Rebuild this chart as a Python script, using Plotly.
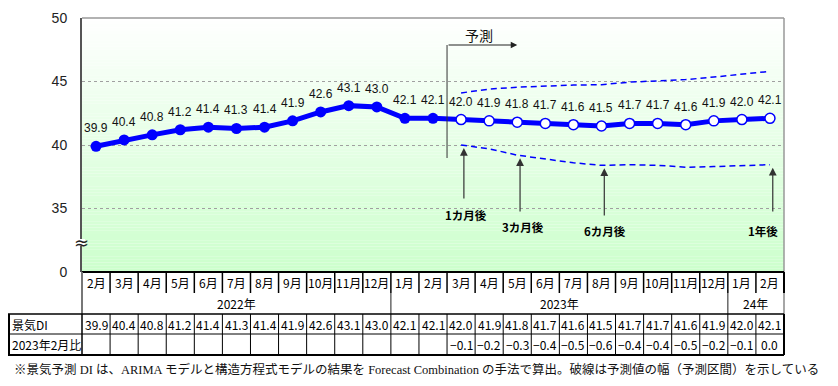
import plotly.graph_objects as go

# ---------------- data ----------------
months = ["2月", "3月", "4月", "5月", "6月", "7月", "8月", "9月", "10月", "11月", "12月",
          "1月", "2月", "3月", "4月", "5月", "6月", "7月", "8月", "9月", "10月", "11月", "12月",
          "1月", "2月"]
years = ["2022年", "2023年", "24年"]
year_spans = [(0, 10), (11, 22), (23, 24)]
actual = [39.9, 40.4, 40.8, 41.2, 41.4, 41.3, 41.4, 41.9, 42.6, 43.1, 43.0, 42.1, 42.1]
forecast = [42.0, 41.9, 41.8, 41.7, 41.6, 41.5, 41.7, 41.7, 41.6, 41.9, 42.0, 42.1]
upper = [44.1, 44.4, 44.55, 44.65, 44.72, 44.75, 44.95, 45.05, 45.15, 45.35, 45.6, 45.8]
lower = [40.0, 39.7, 39.2, 38.9, 38.6, 38.4, 38.45, 38.4, 38.25, 38.3, 38.4, 38.45]
change = [-0.1, -0.2, -0.3, -0.4, -0.5, -0.6, -0.4, -0.4, -0.5, -0.2, -0.1, 0.0]
horizon_labels = ["1カ月後", "3カ月後", "6カ月後", "1年後"]
horizon_idx = [13, 15, 18, 24]
y_tickvals = [30, 35, 40, 45, 50]
y_ticktext = ["0", "35", "40", "45", "50"]
row_labels = ["景気DI", "2023年2月比"]
footnote = ("※景気予測 DI は、ARIMA モデルと構造方程式モデルの結果を Forecast Combination "
            "の手法で算出。破線は予測値の幅（予測区間）を示している")

# ---------------- geometry helpers (page pixel coords) ----------------
OFF = 8                      # default body margin of the html page
W, H = 838 - OFF, 386 - OFF  # figure size
L, R, T, B = 82, 784, 18, 272  # plot area in page pixels
YMIN, YMAX = 30, 50


def px(xp):
    return (xp - L) / (R - L)


def py(yp):
    return (B - yp) / (B - T)


def yval(yp):
    return YMIN + (B - yp) / (B - T) * (YMAX - YMIN)


n = len(months)
x_all = list(range(n))
x_act = x_all[:len(actual)]
x_fc = x_all[len(actual):]

JP = "Noto Sans CJK JP"
SANS = "Liberation Sans, Arial, sans-serif"
BLUE = "#0000FF"

fig = go.Figure()

# band lines
fig.add_trace(go.Scatter(x=x_fc, y=upper, mode="lines",
                         line=dict(color=BLUE, width=1.5, dash="6px,4px"), hoverinfo="skip"))
fig.add_trace(go.Scatter(x=x_fc, y=lower, mode="lines",
                         line=dict(color=BLUE, width=1.5, dash="6px,4px"), hoverinfo="skip"))
# main line
fig.add_trace(go.Scatter(x=x_all, y=actual + forecast, mode="lines",
                         line=dict(color=BLUE, width=5)))
fig.add_trace(go.Scatter(x=x_act, y=actual, mode="markers",
                         marker=dict(color=BLUE, size=11, line=dict(width=0))))
fig.add_trace(go.Scatter(x=x_fc, y=forecast, mode="markers",
                         marker=dict(color="white", size=10, line=dict(color=BLUE, width=1.5))))

shapes = []
annotations = []


def ann(**kw):
    kw.setdefault("showarrow", False)
    kw.setdefault("yanchor", "middle")
    kw.setdefault("xanchor", "center")
    annotations.append(kw)


# gradient background
N = 80
for k in range(N):
    f = (k + 0.5) / N
    c = int(round(204 + 51 * f))
    shapes.append(dict(type="rect", xref="x domain", yref="y domain", x0=0, x1=1,
                       y0=k / N, y1=(k + 1) / N, fillcolor=f"rgb({c},255,{c})",
                       line=dict(width=0), layer="below"))

# plot borders
shapes.append(dict(type="line", xref="paper", yref="paper", x0=0, x1=1, y0=1, y1=1,
                   line=dict(color="#999999", width=1.5)))
shapes.append(dict(type="line", xref="paper", yref="paper", x0=1, x1=1, y0=0, y1=1,
                   line=dict(color="#999999", width=1.5)))
shapes.append(dict(type="line", xref="paper", yref="paper", x0=0, x1=1, y0=0, y1=0,
                   line=dict(color="black", width=2)))

# axis break symbol
shapes.append(dict(type="rect", xref="paper", yref="paper", x0=px(79), x1=px(85),
                   y0=py(246), y1=py(239), fillcolor="white", line=dict(width=0)))
ann(xref="paper", yref="paper", x=px(81), y=py(242), text="≈",
    font=dict(family="DejaVu Sans", size=18, color="#222"))

# forecast bracket
shapes.append(dict(type="line", xref="x", yref="y", x0=12.5, x1=12.5,
                   y0=yval(158), y1=yval(45), line=dict(color="#333", width=1)))
ann(x=15.0, y=yval(45), ax=12.5, ay=yval(45), axref="x", ayref="y",
    xref="x", yref="y", text="", showarrow=True, arrowhead=2,
    arrowsize=1.3, arrowwidth=1, arrowcolor="#222")
ann(x=13.65, y=yval(35), xref="x", yref="y", text="予測",
    font=dict(family=JP, size=14, color="#111"))

# horizon arrows + labels
tail_px = [200, 213, 217, 213]
label_px = [215, 227, 231, 231]
label_dx = [0.18, 0.2, 0.12, -0.25]
for lab, idx, tp, lp, dx in zip(horizon_labels, horizon_idx, tail_px, label_px, label_dx):
    tip = lower[idx - len(actual)]
    ann(x=idx + 0.1, y=tip, ax=idx + 0.1, ay=yval(tp), axref="x", ayref="y",
        xref="x", yref="y", text="", showarrow=True, arrowhead=2,
        arrowsize=1.3, arrowwidth=1.2, arrowcolor="#333", standoff=3)
    ann(x=idx + dx, y=yval(lp), xref="x", yref="y", text=f"<b>{lab}</b>",
        font=dict(family=JP, size=11.5, color="black"))

# data labels
for xi, v in zip(x_all, actual + forecast):
    ann(x=xi, y=v, xref="x", yref="y", text=f"{v:.1f}", yshift=18,
        font=dict(family=SANS, size=12, color="#111"))

# ---------------- table ----------------
ROW1_T, ROW1_B = 272, 293
ROW2_B = 314
ROW3_B = 334
ROW4_B = 355
LBL_L = 8

# month row separators
for i in range(1, n):
    shapes.append(dict(type="line", xref="x", yref="paper", x0=i - 0.5, x1=i - 0.5,
                       y0=py(ROW1_T), y1=py(ROW1_B), line=dict(color="black", width=1.5)))
shapes.append(dict(type="line", xref="paper", yref="paper", x0=1, x1=1,
                   y0=py(ROW1_T), y1=py(ROW1_B), line=dict(color="black", width=2)))
shapes.append(dict(type="line", xref="paper", yref="paper", x0=0, x1=0,
                   y0=py(ROW1_T), y1=py(ROW2_B), line=dict(color="#777", width=2)))
# year row separators
for (a, b) in year_spans[:-1]:
    shapes.append(dict(type="line", xref="x", yref="paper", x0=b + 0.5, x1=b + 0.5,
                       y0=py(ROW1_B), y1=py(ROW2_B), line=dict(color="#444", width=1.2)))
shapes.append(dict(type="line", xref="paper", yref="paper", x0=1, x1=1,
                   y0=py(ROW1_B), y1=py(ROW2_B), line=dict(color="#888", width=1.5)))
# horizontal lines of value rows
for yy, w in [(ROW2_B, 1.5), (ROW3_B, 1), (ROW4_B, 2)]:
    shapes.append(dict(type="line", xref="paper", yref="paper", x0=px(LBL_L), x1=1,
                       y0=py(yy), y1=py(yy), line=dict(color="black", width=w)))
# vertical lines of value rows
for xx, w in [(px(LBL_L + 1), 2), (0, 1.5), (1, 2)]:
    shapes.append(dict(type="line", xref="paper", yref="paper", x0=xx, x1=xx,
                       y0=py(ROW2_B), y1=py(ROW4_B), line=dict(color="black", width=w)))
for i in range(1, n):
    shapes.append(dict(type="line", xref="x", yref="paper", x0=i - 0.5, x1=i - 0.5,
                       y0=py(ROW2_B), y1=py(ROW4_B), line=dict(color="black", width=1)))

TF = dict(family=JP, size=12, color="black")
for xi, m in zip(x_all, months):
    ann(x=xi, y=py((ROW1_T + ROW1_B) / 2), xref="x", yref="paper", text=m, font=TF)
for yl, (a, b) in zip(years, year_spans):
    ann(x=(a + b) / 2, y=py((ROW1_B + ROW2_B) / 2), xref="x", yref="paper", text=yl, font=TF)
for xi, v in zip(x_all, actual + forecast):
    ann(x=xi, y=py((ROW2_B + ROW3_B) / 2), xref="x", yref="paper", text=f"{v:.1f}", font=TF)
for xi, v in zip(x_fc, change):
    ann(x=xi, y=py((ROW3_B + ROW4_B) / 2), xref="x", yref="paper",
        text=f"{v:.1f}".replace("-", "−"), font=TF)
for lab, (y0, y1) in zip(row_labels, [(ROW2_B, ROW3_B), (ROW3_B, ROW4_B)]):
    ann(x=px(LBL_L + 2), y=py((y0 + y1) / 2), xref="paper", yref="paper",
        xanchor="left", text=lab, font=TF)

ann(x=px(12), y=py(369), xref="paper", yref="paper", xanchor="left", text=footnote,
    font=dict(family="Liberation Serif, " + JP, size=12.5, color="#111"))

fig.update_layout(
    width=W, height=H,
    margin=dict(l=L - OFF, r=(W + OFF) - R, t=T - OFF, b=(H + OFF) - B, pad=0, autoexpand=False),
    paper_bgcolor="white", plot_bgcolor="white",
    showlegend=False,
    xaxis=dict(range=[-0.5, n - 0.5], visible=False, fixedrange=True, automargin=False),
    yaxis=dict(range=[YMIN, YMAX], tickvals=y_tickvals, ticktext=y_ticktext,
               showgrid=True, gridcolor="#a0a0a0", griddash="dot", gridwidth=1,
               showline=True, linecolor="#555", linewidth=2, zeroline=False,
               ticks="", ticklabelstandoff=10, automargin=False,
               tickfont=dict(family=SANS, size=14, color="#222"), fixedrange=True),
    shapes=shapes,
    annotations=annotations,
)

fig.write_html("out.html")
